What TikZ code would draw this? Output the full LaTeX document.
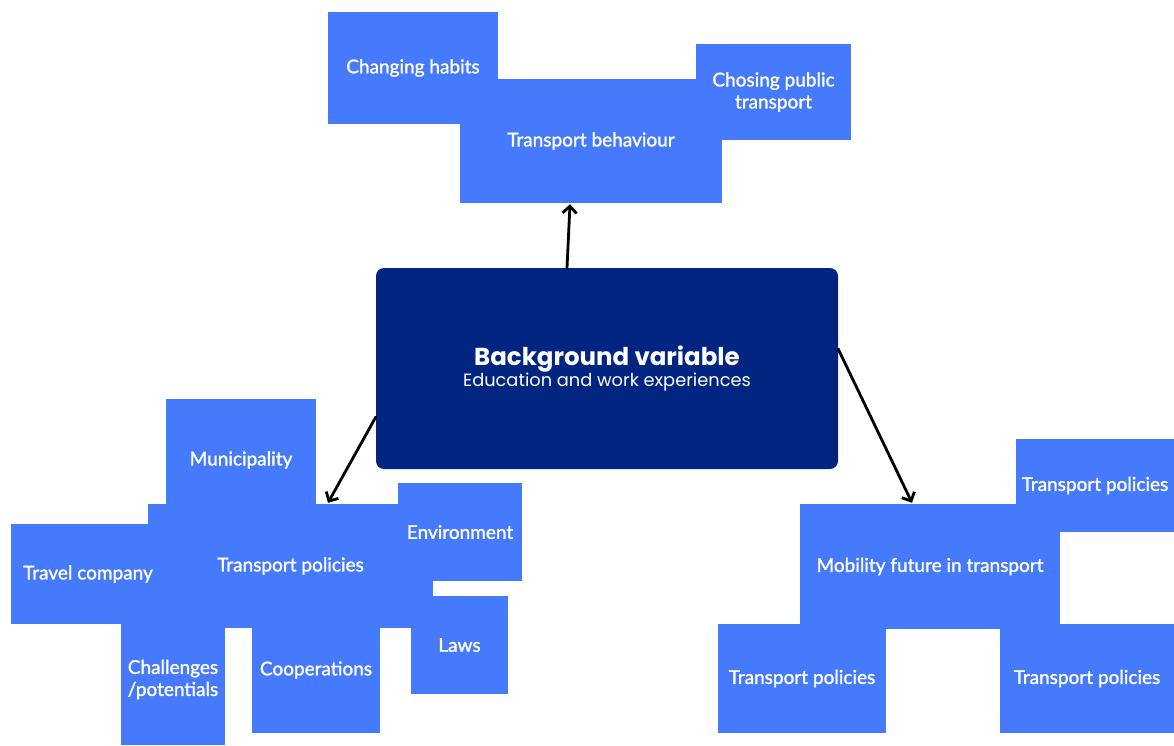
\documentclass[tikz,border=0pt]{standalone}
\usepackage{fontspec}
\setmainfont{Lato}[FakeBold=1.4]
\newfontfamily\headfont{Poppins}
\usetikzlibrary{arrows.meta,calc}
\definecolor{boxblue}{RGB}{70,122,252}
\definecolor{navy}{RGB}{2,37,130}
\tikzset{
  blk/.style={fill=boxblue, text=white, inner sep=0pt, align=center,
              font=\fontsize{19}{22}\selectfont},
  hub/.style={fill=navy, text=white, inner sep=0pt, align=center, rounded corners=8pt},
  link/.style={line width=2.8pt, line cap=round,
               -{Straight Barb[length=7pt,width=14pt,line width=2.8pt]}}
}
% box by its corners: [options]{name}{x1}{y1}{x2}{y2}{text}
\newcommand\placebox[7][]{%
  \node[blk,#1,minimum width={#5-#3},minimum height={#6-#4}] (#2)
    at ({(#3+#5)/2},{(#4+#6)/2}) {#7};}
\begin{document}
\begin{tikzpicture}[x=1pt,y=-1pt]
\useasboundingbox (0,0) rectangle (1174,745);
\clip (0,0) rectangle (1174,745);

% central variable
\node[hub, minimum width=462, minimum height=201] (c) at (607,368.5)
  {\raisebox{-4pt}{\begin{tabular}{@{}c@{}}
   {\headfont\bfseries\fontsize{24.5}{27}\selectfont Background variable}\\[2pt]
   {\headfont\fontsize{17.8}{20}\selectfont Education and work experiences}
   \end{tabular}}};

% upper cluster
\placebox{tb}{460}{79}{722}{203}{Transport behaviour}
\placebox{hab}{328}{12}{498}{124}{Changing habits}
\placebox{pub}{696}{44}{851}{140}{Chosing public\\transport}

% left cluster
\placebox{tp}{148}{504}{433}{628}{Transport policies}
\placebox{mun}{166}{399}{316}{521}{Municipality}
\placebox{trav}{11}{524}{165}{624}{Travel company}
\placebox{env}{398}{483}{522}{581}{Environment}
\placebox{laws}{411}{596}{508}{694}{Laws}
\placebox{chal}{121}{614}{225}{745}{Challenges\\/potentials}
\placebox{coop}{252}{607}{380}{733}{Cooperations}

% right cluster
\placebox{mob}{800}{504}{1060}{629}{Mobility future in transport}
\placebox{tpa}{1016}{439}{1174}{532}{Transport policies}
\placebox{tpb}{718}{624}{886}{733}{Transport policies}
\placebox{tpc}{1000}{624}{1174}{733}{Transport policies}

% connectors
\draw[link] ([xshift=-40pt]c.north) -- ([xshift=-21pt,yshift=-1pt]tb.south);
\draw[link] ([yshift=-48.5pt]c.west) -- ([xshift=37.5pt,yshift=1pt]tp.north);
\draw[link] ([yshift=19.5pt]c.east) -- ([xshift=-18pt,yshift=1pt]mob.north);
\end{tikzpicture}
\end{document}
